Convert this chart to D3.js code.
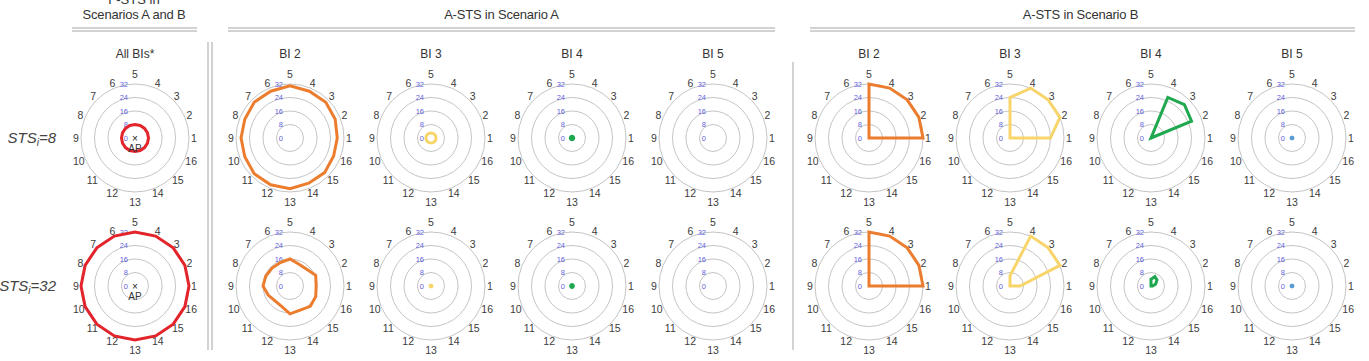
<!DOCTYPE html>
<html>
<head>
<meta charset="utf-8">
<script src="https://cdn.jsdelivr.net/npm/d3@7"></script>
<style>
  body { margin: 0; background: #fff; }
  svg { display: block; font-family: "Liberation Sans", Arial, sans-serif; }
</style>
</head>
<body>
<svg width="1369" height="361"></svg>
<script>
// Sample data
const directions = ["1", "2", "3", "4", "5", "6", "7", "8", "9", "10", "11", "12", "13", "14", "15", "16"];
const ringTicks = [0, 8, 16, 24, 32];
const gridRings = [8, 16, 24, 32];
const rowLabels = ["8", "32"];
const panelTitles = ["All BIs*", "BI 2", "BI 3", "BI 4", "BI 5", "BI 2", "BI 3", "BI 4", "BI 5"];
const groupTitles = ["Scenarios A and B", "A-STS in Scenario A", "A-STS in Scenario B"];

// F-STS, all BIs
const fsts8  = [8, 8, 8, 8, 8, 8, 8, 8, 8, 8, 8, 8, 8, 8, 8, 8];
const fsts32 = [32, 32, 32, 32, 32, 32, 32, 32, 32, 32, 32, 32, 32, 32, 32, 32];

// A-STS, scenario A
const a8bi2  = [28, 29, 30, 30, 31, 30, 30, 29, 29, 29, 30, 30, 30, 29, 29, 28];
const a8bi3  = [3, 3, 3, 3, 3, 3, 3, 3, 3, 3, 3, 3, 3, 3, 3, 3];
const a8bi4  = [1, 1, 1, 1, 1, 1, 1, 1, 1, 1, 1, 1, 1, 1, 1, 1];
const a8bi5  = [0, 0, 0, 0, 0, 0, 0, 0, 0, 0, 0, 0, 0, 0, 0, 0];
const a32bi2 = [15.5, 16.5, 14, 14, 16, 15, 15, 15.5, 16, 14, 12.5, 13, 16.5, 15.5, 17, 16.5];
const a32bi3 = [0.5, 0.5, 0.5, 0.5, 0.5, 0.5, 0.5, 0.5, 0.5, 0.5, 0.5, 0.5, 0.5, 0.5, 0.5, 0.5];
const a32bi4 = [0.8, 0.8, 0.8, 0.8, 0.8, 0.8, 0.8, 0.8, 0.8, 0.8, 0.8, 0.8, 0.8, 0.8, 0.8, 0.8];
const a32bi5 = [0, 0, 0, 0, 0, 0, 0, 0, 0, 0, 0, 0, 0, 0, 0, 0];

// A-STS, scenario B
const b8bi2  = [32, 32, 32, 32, 32, 0, 0, 0, 0, 0, 0, 0, 0, 0, 0, 0];
const b8bi3  = [24, 32, 32, 32, 24, 0, 0, 0, 0, 0, 0, 0, 0, 0, 0, 0];
const b8bi4  = [0, 26, 28, 26, 0, 0, 0, 0, 0, 0, 0, 0, 0, 0, 0, 0];
const b8bi5  = [0.5, 0.5, 0.5, 0.5, 0.5, 0.5, 0.5, 0.5, 0.5, 0.5, 0.5, 0.5, 0.5, 0.5, 0.5, 0.5];
const b32bi2 = [32, 32, 32, 32, 32, 0, 0, 0, 0, 0, 0, 0, 0, 0, 0, 0];
const b32bi3 = [6, 32, 32, 32, 6, 0, 0, 0, 0, 0, 0, 0, 0, 0, 0, 0];
const b32bi4 = [1, 3, 5, 6, 4, 0, 0, 0, 0, 0, 0, 0, 0, 0, 0, 0];
const b32bi5 = [0.5, 0.5, 0.5, 0.5, 0.5, 0.5, 0.5, 0.5, 0.5, 0.5, 0.5, 0.5, 0.5, 0.5, 0.5, 0.5];

const colors = { all: "#e3242b", bi2: "#ec7d2f", bi3: "#f8d56a", bi4: "#1fa84f", bi5: "#5b9bd5" };

// each panel: title, colour, [row STS=8, row STS=32]
const panels = [
    { title: panelTitles[0], color: colors.all, rows: [fsts8, fsts32], ap: true },
    { title: panelTitles[1], color: colors.bi2, rows: [a8bi2, a32bi2] },
    { title: panelTitles[2], color: colors.bi3, rows: [a8bi3, a32bi3] },
    { title: panelTitles[3], color: colors.bi4, rows: [a8bi4, a32bi4] },
    { title: panelTitles[4], color: colors.bi5, rows: [a8bi5, a32bi5] },
    { title: panelTitles[5], color: colors.bi2, rows: [b8bi2, b32bi2] },
    { title: panelTitles[6], color: colors.bi3, rows: [b8bi3, b32bi3] },
    { title: panelTitles[7], color: colors.bi4, rows: [b8bi4, b32bi4] },
    { title: panelTitles[8], color: colors.bi5, rows: [b8bi5, b32bi5] },
];

const svg = d3.select("svg");

// column centres: one F-STS panel, then two groups of four
const colA = d3.scaleLinear().domain([0, 3]).range([290, 713]);
const colB = d3.scaleLinear().domain([0, 3]).range([869, 1292]);
const colX = i => i === 0 ? 135 : (i <= 4 ? colA(i - 1) : colB(i - 5));
const rowY = d3.scaleLinear().domain([0, 1]).range([138, 286]);

const rScale = d3.scaleLinear().domain([0, 32]).range([0, 54]);
// direction 1 points east, counter-clockwise (lineRadial angle 0 = north, clockwise)
const angle = d3.scaleLinear().domain([0, directions.length]).range([Math.PI / 2, Math.PI / 2 - 2 * Math.PI]);

const radial = d3.lineRadial()
    .angle((d, i) => angle(i))
    .radius(d => rScale(d))
    .curve(d3.curveLinearClosed);

// group headers (first line is cut by the top edge, as in the source figure)
svg.append("text")
    .attr("x", 134).attr("y", 4)
    .attr("text-anchor", "middle")
    .attr("font-size", 13).attr("fill", "#333")
    .text("F-STS in");

const headers = [
    { text: groupTitles[0], x: 134, x1: 72, x2: 197 },
    { text: groupTitles[1], x: (colA(0) + colA(3)) / 2, x1: 228, x2: 775 },
    { text: groupTitles[2], x: (colB(0) + colB(3)) / 2, x1: 810, x2: 1355 },
];
headers.forEach(h => {
    svg.append("text")
        .attr("x", h.x).attr("y", 18.5)
        .attr("text-anchor", "middle")
        .attr("font-size", 13).attr("fill", "#333")
        .attr("letter-spacing", -0.2)
        .text(h.text);
    [28, 31].forEach(y => {
        svg.append("line")
            .attr("x1", h.x1).attr("x2", h.x2)
            .attr("y1", y).attr("y2", y)
            .attr("stroke", "#a6a6a6").attr("stroke-width", 1.2);
    });
});

// separators
[208, 212].forEach(x => {
    svg.append("line")
        .attr("x1", x).attr("x2", x).attr("y1", 42).attr("y2", 350)
        .attr("stroke", "#a6a6a6").attr("stroke-width", 1);
});
svg.append("line")
    .attr("x1", 793).attr("x2", 793).attr("y1", 62).attr("y2", 350)
    .attr("stroke", "#a6a6a6").attr("stroke-width", 1);

// row labels STS_i=8 / STS_i=32
rowLabels.forEach((lab, r) => {
    const t = svg.append("text")
        .attr("x", 56).attr("y", rowY(r) + 5)
        .attr("text-anchor", "end")
        .attr("font-size", 15).attr("font-style", "italic").attr("fill", "#444");
    t.append("tspan").text("STS");
    t.append("tspan").attr("font-size", 10).attr("dy", 3).text("i");
    t.append("tspan").attr("dy", -3).text("=" + lab);
});

panels.forEach((p, c) => {
    const cx = colX(c);

    svg.append("text")
        .attr("x", cx).attr("y", 58)
        .attr("text-anchor", "middle")
        .attr("font-size", 12).attr("fill", "#333")
        .text(p.title);

    p.rows.forEach((values, r) => {
        const cy = rowY(r);
        const g = svg.append("g").attr("transform", `translate(${cx},${cy})`);

        g.selectAll(".ring")
            .data(gridRings)
            .enter()
            .append("circle")
            .attr("class", "ring")
            .attr("r", d => rScale(d))
            .attr("fill", "none")
            .attr("stroke", "#c4c4c4")
            .attr("stroke-width", 1);

        g.selectAll(".tick")
            .data(ringTicks)
            .enter()
            .append("text")
            .attr("class", "tick")
            .attr("x", -7)
            .attr("y", d => -rScale(d))
            .attr("dy", "0.35em")
            .attr("text-anchor", "end")
            .attr("font-size", 7.5)
            .attr("fill", "#6262dc")
            .text(d => d);

        g.selectAll(".dir")
            .data(directions)
            .enter()
            .append("text")
            .attr("class", "dir")
            .attr("font-size", 10.5)
            .attr("fill", "#3c3c3c")
            .attr("text-anchor", "middle")
            .attr("dy", "0.35em")
            .each(function(d, i) {
                const a = (i * 2 * Math.PI) / directions.length;
                const cs = Math.cos(a), sn = Math.sin(a);
                const rr = 59 + (Math.abs(sn) > 0.95 ? 5 : 0) + (d.length - 1) * 2 * Math.abs(cs);
                d3.select(this).attr("x", rr * cs).attr("y", -rr * sn);
            })
            .text(d => d);

        if (d3.max(values) > 0) {
            g.append("path")
                .datum(values)
                .attr("d", radial)
                .attr("fill", "none")
                .attr("stroke", p.color)
                .attr("stroke-width", 3)
                .attr("stroke-linejoin", "miter");
        }

        if (p.ap) {
            g.append("text")
                .attr("x", 0).attr("y", 0).attr("dy", "0.35em")
                .attr("text-anchor", "middle")
                .attr("font-size", 10).attr("fill", "#222")
                .text("×");
            g.append("text")
                .attr("x", 0).attr("y", 14)
                .attr("text-anchor", "middle")
                .attr("font-size", 10).attr("fill", "#333")
                .text("AP");
        }
    });
});
</script>
</body>
</html>
